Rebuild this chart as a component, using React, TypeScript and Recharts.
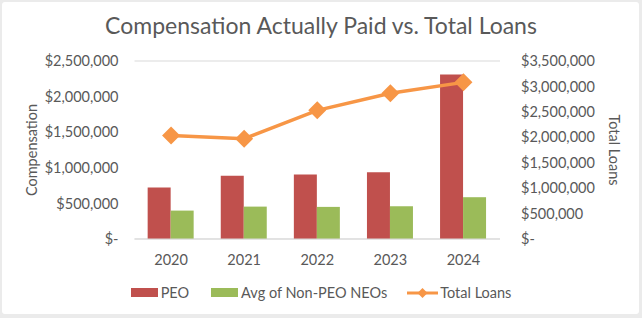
import {
    ComposedChart,
    Bar,
    Line,
    XAxis,
    YAxis,
    CartesianGrid,
    Legend
} from "recharts";

const years = ["2020", "2021", "2022", "2023", "2024"];
const peo = [722000, 887000, 906000, 939000, 2310000];
const nonPeo = [399000, 455000, 451000, 460000, 587000];
const totalLoans = [2037000, 1972000, 2530000, 2865000, 3080000];

const leftTicks = [0, 500000, 1000000, 1500000, 2000000, 2500000];
const rightTicks = [0, 500000, 1000000, 1500000, 2000000, 2500000, 3000000, 3500000];

const RED = "#C0504D";
const GREEN = "#9BBB59";
const ORANGE = "#F79646";
const TEXT = "#595959";
const FONT = "Lato, 'Open Sans', sans-serif";

const data = years.map((y, i) => ({
    year: y,
    peo: peo[i],
    nonPeo: nonPeo[i],
    loans: totalLoans[i]
}));

const money = (v: number) =>
    v === 0 ? "$-" : "$" + v.toLocaleString("en-US");

const Diamond = (props: any) => {
    const { cx, cy } = props;
    if (cx == null || cy == null) return null;
    const r = 9;
    return (
        <polygon
            points={`${cx},${cy - r} ${cx + r},${cy} ${cx},${cy + r} ${cx - r},${cy}`}
            fill={ORANGE}
        />
    );
};

const LegendContent = () => (
    <div
        style={{
            display: "flex",
            justifyContent: "center",
            alignItems: "center",
            fontFamily: FONT,
            fontSize: 14.5,
            color: TEXT
        }}
    >
        <span style={{ display: "inline-block", width: 27, height: 9, background: RED, marginRight: 3 }} />
        <span style={{ marginRight: 22 }}>PEO</span>
        <span style={{ display: "inline-block", width: 27, height: 9, background: GREEN, marginRight: 3 }} />
        <span style={{ marginRight: 20 }}>Avg of Non-PEO NEOs</span>
        <svg width={31} height={12} style={{ marginRight: 2 }}>
            <line x1={0} y1={6} x2={31} y2={6} stroke={ORANGE} strokeWidth={3} />
            <polygon points="15.5,1 20.5,6 15.5,11 10.5,6" fill={ORANGE} />
        </svg>
        <span>Total Loans</span>
    </div>
);

const App = () => {
    return (
        <div style={{ position: "fixed", left: 0, top: 0, width: 642, height: 318, background: "#EBEBEB" }}>
            <div
                style={{
                    position: "absolute",
                    left: 2,
                    top: 2,
                    width: 637,
                    height: 312,
                    background: "#fff",
                    borderRadius: 3
                }}
            />
            <div
                style={{
                    position: "absolute",
                    left: 0,
                    top: 11,
                    width: 642,
                    textAlign: "center",
                    fontFamily: FONT,
                    fontSize: 23,
                    color: TEXT
                }}
            >
                Compensation Actually Paid vs. Total Loans
            </div>
            <div style={{ position: "absolute", left: 0, top: 0 }}>
                <ComposedChart
                    width={642}
                    height={318}
                    data={data}
                    margin={{ top: 61, right: 10, left: 10, bottom: 0 }}
                    barGap={0}
                    barCategoryGap="18%"
                >
                    <CartesianGrid vertical={false} stroke="#D9D9D9" strokeWidth={1.2} />
                    <XAxis
                        dataKey="year"
                        height={79}
                        axisLine={{ stroke: "#D9D9D9" }}
                        tickLine={false}
                        tick={{ fill: TEXT, fontSize: 14.5, fontFamily: FONT }}
                        tickMargin={10}
                    />
                    <YAxis
                        yAxisId="left"
                        width={124.5}
                        domain={[0, 2500000]}
                        ticks={leftTicks}
                        tickFormatter={money}
                        axisLine={false}
                        tickLine={false}
                        tick={{ fill: TEXT, fontSize: 14.5, fontFamily: FONT }}
                        tickMargin={10}
                        label={{
                            value: "Compensation",
                            angle: -90,
                            position: "insideLeft",
                            offset: 22,
                            style: { textAnchor: "middle", fill: TEXT, fontSize: 14.5, fontFamily: FONT }
                        }}
                    />
                    <YAxis
                        yAxisId="right"
                        orientation="right"
                        width={132}
                        domain={[0, 3500000]}
                        ticks={rightTicks}
                        tickFormatter={money}
                        axisLine={false}
                        tickLine={false}
                        tick={{ fill: TEXT, fontSize: 14.5, fontFamily: FONT }}
                        tickMargin={15}
                        label={{
                            value: "Total Loans",
                            angle: 90,
                            position: "insideRight",
                            offset: 18,
                            style: { textAnchor: "middle", fill: TEXT, fontSize: 14.5, fontFamily: FONT }
                        }}
                    />
                    <Bar yAxisId="left" dataKey="peo" name="PEO" fill={RED} isAnimationActive={false} />
                    <Bar yAxisId="left" dataKey="nonPeo" name="Avg of Non-PEO NEOs" fill={GREEN} isAnimationActive={false} />
                    <Line
                        yAxisId="right"
                        dataKey="loans"
                        name="Total Loans"
                        stroke={ORANGE}
                        strokeWidth={3.5}
                        dot={<Diamond />}
                        activeDot={false}
                        isAnimationActive={false}
                    />
                    <Legend
                        layout="horizontal"
                        verticalAlign="middle"
                        align="center"
                        content={<LegendContent />}
                        wrapperStyle={{ top: 284, left: 0, width: 642 }}
                    />
                </ComposedChart>
            </div>
        </div>
    );
};

export default App;
